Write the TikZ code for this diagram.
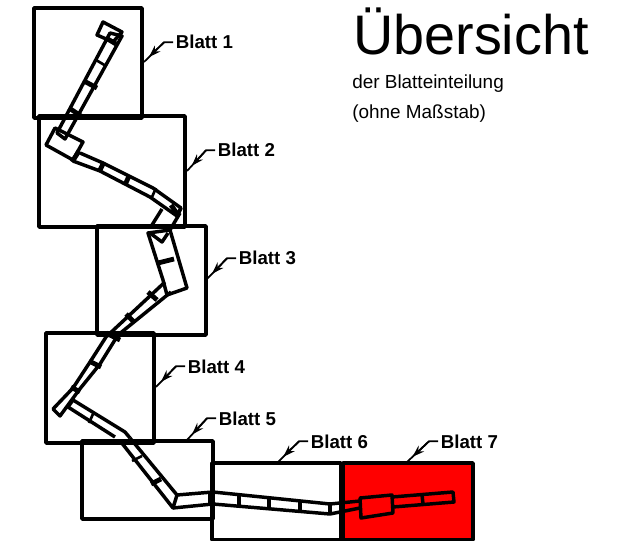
\documentclass[tikz,border=0pt]{standalone}
\usepackage{fontspec}
\setmainfont{Liberation Sans}
\usetikzlibrary{arrows.meta,calc}
\tikzset{
  sheet/.style={draw=black,line width=2.7pt,rectangle,inner sep=0pt,line join=round},
  strip/.style={draw=black,line width=2.6pt,line join=round},
  thinbar/.style={draw=black,line width=2pt},
  bar/.style={draw=black,line width=3.6pt},
  blatt/.style={font=\fontsize{14}{16}\selectfont\bfseries,anchor=base west,inner sep=2pt},
  leader/.style={draw=black,line width=1.3pt},
  head/.style={draw=black,line width=1.3pt,-{Stealth[length=9pt,width=6pt]}}
}
\newcommand{\sheetbox}[6][]{\node[sheet,minimum width=#4*0.75pt-#2*0.75pt,minimum height=#5*0.75pt-#3*0.75pt,#1] (#6) at ({(#2+#4)/2},{(#3+#5)/2}) {};}
\newcommand{\blattleader}[4]{%
  \node[blatt] (#1) at #3 {#2};
  \coordinate (t#1) at #4;
  \draw[leader] (#1.west) -- ++(-9,0) coordinate (e#1) -- (t#1);
  \draw[head] (e#1) -- ($(e#1)!0.75!(t#1)$);
}
\begin{document}
\begin{tikzpicture}[x=0.75pt,y=-0.75pt]
\useasboundingbox (0,0) rectangle (631,541);
% sheets
\sheetbox[fill=red]{343}{463}{473}{540}{b7}
\sheetbox{212}{463}{341}{540}{b6}
\sheetbox{82}{441}{213}{519}{b5}
\sheetbox{46}{333}{154}{443}{b4}
\sheetbox{97}{226}{206}{335}{b3}
\sheetbox{39}{116}{185}{227}{b2}
\sheetbox{34}{8}{142}{118}{b1}
% sheet 1 strip
\draw[strip] (103,22) -- (122,32) -- (113,42) -- (97,35) -- cycle;
\draw[strip] (110,33) -- (122,36) -- (65,139) -- (57,133) -- cycle;
\draw[thinbar] (96,60) -- (106,66);
\draw[bar] (84,81) -- (97,88);
\draw[bar] (69,108) -- (81,116);
\draw[bar] (106,38) -- (116,44);
% sheet 2 strip
\draw[strip] (55,128) -- (46,145) -- (73,160) -- (83,142) -- cycle;
\draw[strip] (80,153) -- (103,163) -- (153,188) -- (181,208) -- (177,216) -- (150,197) -- (100,171) -- (73,161);
\draw[bar] (72,162) -- (79,151);
\draw[bar] (99,172) -- (104,162);
\draw[bar] (125,185) -- (129,176);
\draw[thinbar] (152,197) -- (156,188);
\draw[bar] (171,205) -- (178,215);
% sheet 3
\draw[strip] (162,209) -- (152,225) (180,213) -- (170,230) (177,216) -- (181,208);
\draw[strip] (148,233) -- (170,230) -- (187,288) -- (167,295) -- (163,280) -- cycle;
\draw[strip] (150,233) -- (162,242) -- (168,233);
\draw[bar] (158,263) -- (174,259);
\draw[strip] (165,282) -- (106,337) -- (90,362) -- (73,388) -- (53,409) -- (60,416) -- (79,390) -- (100,364) -- (118,335) -- (171,292);
\draw[bar] (148,292) -- (157,300);
\draw[bar] (126,314) -- (134,322);
\draw[bar] (106,333) -- (120,340);
% sheet 4
\draw[bar] (89,361) -- (101,367);
\draw[bar] (71,387) -- (80,392);
\draw[strip] (73,400) -- (125,432) -- (130,438);
\draw[strip] (68,407) -- (115,437);
\draw[strip] (73,400) -- (68,407);
\draw[thinbar] (93,414) -- (89,423);
% sheet 5
\draw[strip] (121,442) -- (173,508) -- (177,495) -- (130,438);
\draw[thinbar] (132,461) -- (142,456);
\draw[bar] (151,484) -- (161,479);
% sheet 5/6
\draw[strip] (177,495) -- (213,492) -- (330,504) -- (360,501);
\draw[strip] (173,508) -- (213,504) -- (330,514) -- (360,508);
\draw[bar] (210,491) -- (210,505);
\draw[bar] (239,495) -- (239,508);
\draw[bar] (269,497) -- (269,510);
\draw[bar] (300,500) -- (300,512);
\draw[bar] (330,503) -- (330,515);
% sheet 7
\draw[strip] (360,498) -- (392,495) -- (393,513) -- (361,518) -- cycle;
\draw[strip] (392,497) -- (453,492) -- (454,502) -- (393,507);
\draw[strip] (422,495) -- (423,504);
% labels
\blattleader{l1}{Blatt 1}{(173,49)}{(144,62)}
\blattleader{l2}{Blatt 2}{(215,157)}{(187,171)}
\blattleader{l3}{Blatt 3}{(236,265)}{(207,279)}
\blattleader{l4}{Blatt 4}{(185,373)}{(156,387)}
\blattleader{l5}{Blatt 5}{(216,425)}{(187,440)}
\blattleader{l6}{Blatt 6}{(308,448)}{(278,462)}
\blattleader{l7}{Blatt 7}{(438,448)}{(407,462)}
% title
\node[anchor=base west,inner sep=0pt,font=\fontsize{41.8}{44}\selectfont] (title) at (353,55) {Übersicht};
\node[anchor=base west,inner sep=0pt,font=\fontsize{14.2}{16}\selectfont] (sub1) at (352,89) {der Blatteinteilung};
\node[anchor=base west,inner sep=0pt,font=\fontsize{14.2}{16}\selectfont] (sub2) at (352,119) {(ohne Maßstab)};
\end{tikzpicture}
\end{document}
